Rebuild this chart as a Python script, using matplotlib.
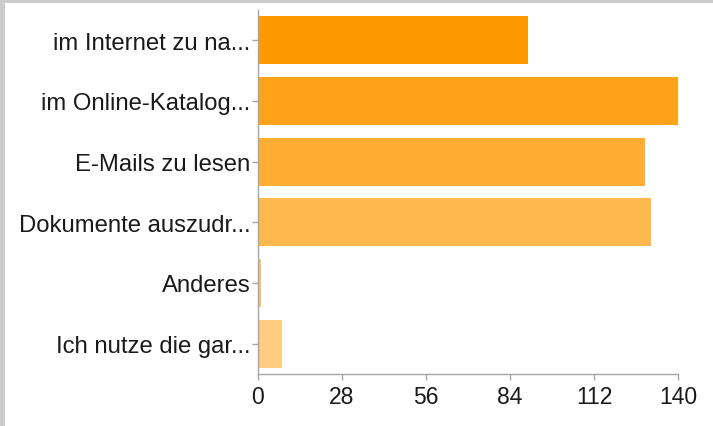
import matplotlib
matplotlib.use('agg')
import matplotlib.pyplot as plt
import matplotlib.patches as patches

# answers and how many people picked them
labels = ["im Internet zu na...", "im Online-Katalog...", "E-Mails zu lesen",
          "Dokumente auszudr...", "Anderes", "Ich nutze die gar..."]
counts = [90, 140, 129, 131, 1, 8]
bar_colors = ["#ff9900", "#ffa31a", "#ffad33", "#ffb84d", "#ffc266", "#ffcc80"]
xticks = [0, 28, 56, 84, 112, 140]

plt.rcParams['font.family'] = ['Liberation Sans', 'DejaVu Sans']

fig = plt.figure(figsize=(7.13, 4.27), dpi=100)
fig.patch.set_facecolor("white")

# grey frame on the left and top edge
fig.patches.append(patches.Rectangle((0, 0), 4.5 / 713, 1, transform=fig.transFigure,
                                     fc="#cccccc", ec="none", zorder=0))
fig.patches.append(patches.Rectangle((0, 1 - 4 / 427), 1, 4 / 427, transform=fig.transFigure,
                                     fc="#cccccc", ec="none", zorder=0))

ax = fig.add_axes([258 / 713, 52 / 427, 420 / 713, 364 / 427])

ypos = list(range(len(labels)))
ax.barh(ypos, counts, height=0.79, color=bar_colors, edgecolor="none")
ax.set_ylim(len(labels) - 0.5, -0.5)
ax.set_xlim(0, 140)

ax.set_yticks(ypos, labels=labels)
ax.set_xticks(xticks, labels=[str(t) for t in xticks])

for s in ["top", "right"]:
    ax.spines[s].set_visible(False)
for s in ["left", "bottom"]:
    ax.spines[s].set_color("#a6a6a6")
    ax.spines[s].set_linewidth(1.0)

ax.tick_params(axis="y", length=4, width=1, color="#a6a6a6", pad=1.5,
               labelsize=17.2, labelcolor="#1a1a1a")
ax.tick_params(axis="x", length=4, width=1, color="#a6a6a6", pad=4,
               labelsize=16.5, labelcolor="#1a1a1a")

plt.savefig("out.png", dpi=100)
plt.close("all")
